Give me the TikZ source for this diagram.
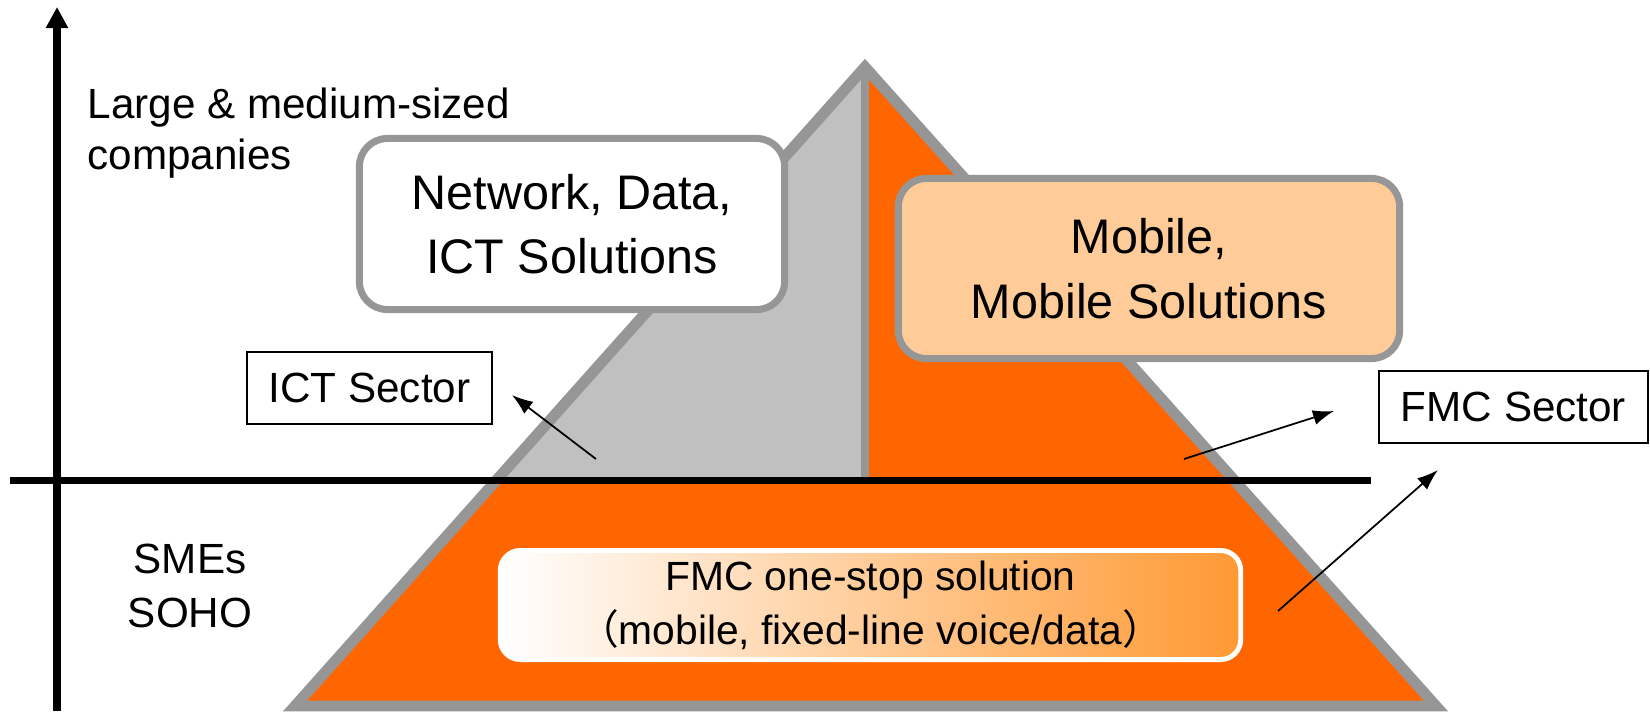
\documentclass[tikz,border=0pt]{standalone}
\usepackage{fontspec}
\setmainfont{Liberation Sans}
\newfontfamily\cjk{Noto Sans CJK SC}
\usetikzlibrary{arrows.meta}
\definecolor{fmcorange}{HTML}{FF6600}
\definecolor{ictgray}{HTML}{C0C0C0}
\definecolor{edgegray}{HTML}{969696}
\definecolor{mobpeach}{HTML}{FFCC99}
\definecolor{fadeorange}{HTML}{FF9933}

\begin{document}
\begin{tikzpicture}[x=0.01cm,y=0.01cm,
  every node/.style={inner sep=0pt},
  solbox/.style={draw=edgegray,line width=2pt,rounded corners=0.28cm,align=center,font=\fontsize{13.8}{18.3}\selectfont},
  sectorbox/.style={draw=black,line width=0.45pt,minimum height=0.72cm,font=\fontsize{12}{14.4}\selectfont},
  pointer/.style={-{Latex[length=0.21cm,width=0.15cm]},line width=0.5pt}]
\useasboundingbox (0,0) rectangle (1650,-711);
% pyramid
\coordinate (apex) at (865,-67);
\coordinate (baseL) at (295,-706);
\coordinate (baseR) at (1436,-706);
\coordinate (sepBottom) at (865,-480);
\begin{scope}
\clip (apex) -- (baseL) -- (baseR) -- cycle;
\fill [fmcorange] (0,0) rectangle (1650,-711);
\fill [ictgray] (0,-480) rectangle (865,0);
\end{scope}
\draw [edgegray,line width=2pt] (apex) -- (sepBottom);
\draw [edgegray,line width=3.1pt] (apex) -- (baseL) -- (baseR) -- cycle;
% axes
\coordinate (axisBottom) at (57,-711);
\coordinate (axisTop) at (57,-7);
\coordinate (lineL) at (10,-480.5);
\coordinate (lineR) at (1371,-480.5);
\draw [black,line width=2pt] (lineL) -- (lineR);
\draw [black,line width=2.3pt,-{Triangle[length=0.21cm,width=0.21cm]}] (axisBottom) -- (axisTop);
\node (largeco) [anchor=west,align=left,font=\fontsize{12}{14.4}\selectfont] at (87,-133) {Large \& medium-sized\\companies};
\node (smesoho) [align=center,font=\fontsize{12}{15.6}\selectfont] at (190,-586) {SMEs\\SOHO};
% boxes
\node (bignet) [solbox,fill=white,minimum width=4.25cm,minimum height=1.71cm] at (572,-224) {Network, Data,\\ICT Solutions};
\node (mobile) [solbox,fill=mobpeach,minimum width=5.01cm,minimum height=1.80cm] at (1149,-268.5) {Mobile,\\Mobile Solutions};
\node (onestop) [draw=white,line width=1.4pt,rounded corners=0.2cm,left color=white,right color=fadeorange,minimum width=7.4cm,minimum height=1.09cm,align=center,font=\fontsize{11.6}{15.3}\selectfont] at (870.5,-605) {FMC one-stop solution\\{\cjk （}mobile, fixed-line voice/data{\cjk ）}};
\node (ictsec) [sectorbox,minimum width=2.45cm] at (369.5,-388) {ICT Sector};
\node (fmcsec) [sectorbox,minimum width=2.69cm] at (1513.5,-407) {FMC Sector};
% pointers
\coordinate (ictTail) at (596,-459);
\coordinate (ictTip) at (512,-395);
\coordinate (fmcTail) at (1184,-459);
\coordinate (fmcTip) at (1334,-411);
\coordinate (stopTail) at (1278,-611);
\coordinate (stopTip) at (1438,-470);
\draw [pointer] (ictTail) -- (ictTip);
\draw [pointer] (fmcTail) -- (fmcTip);
\draw [pointer] (stopTail) -- (stopTip);
\end{tikzpicture}
\end{document}
